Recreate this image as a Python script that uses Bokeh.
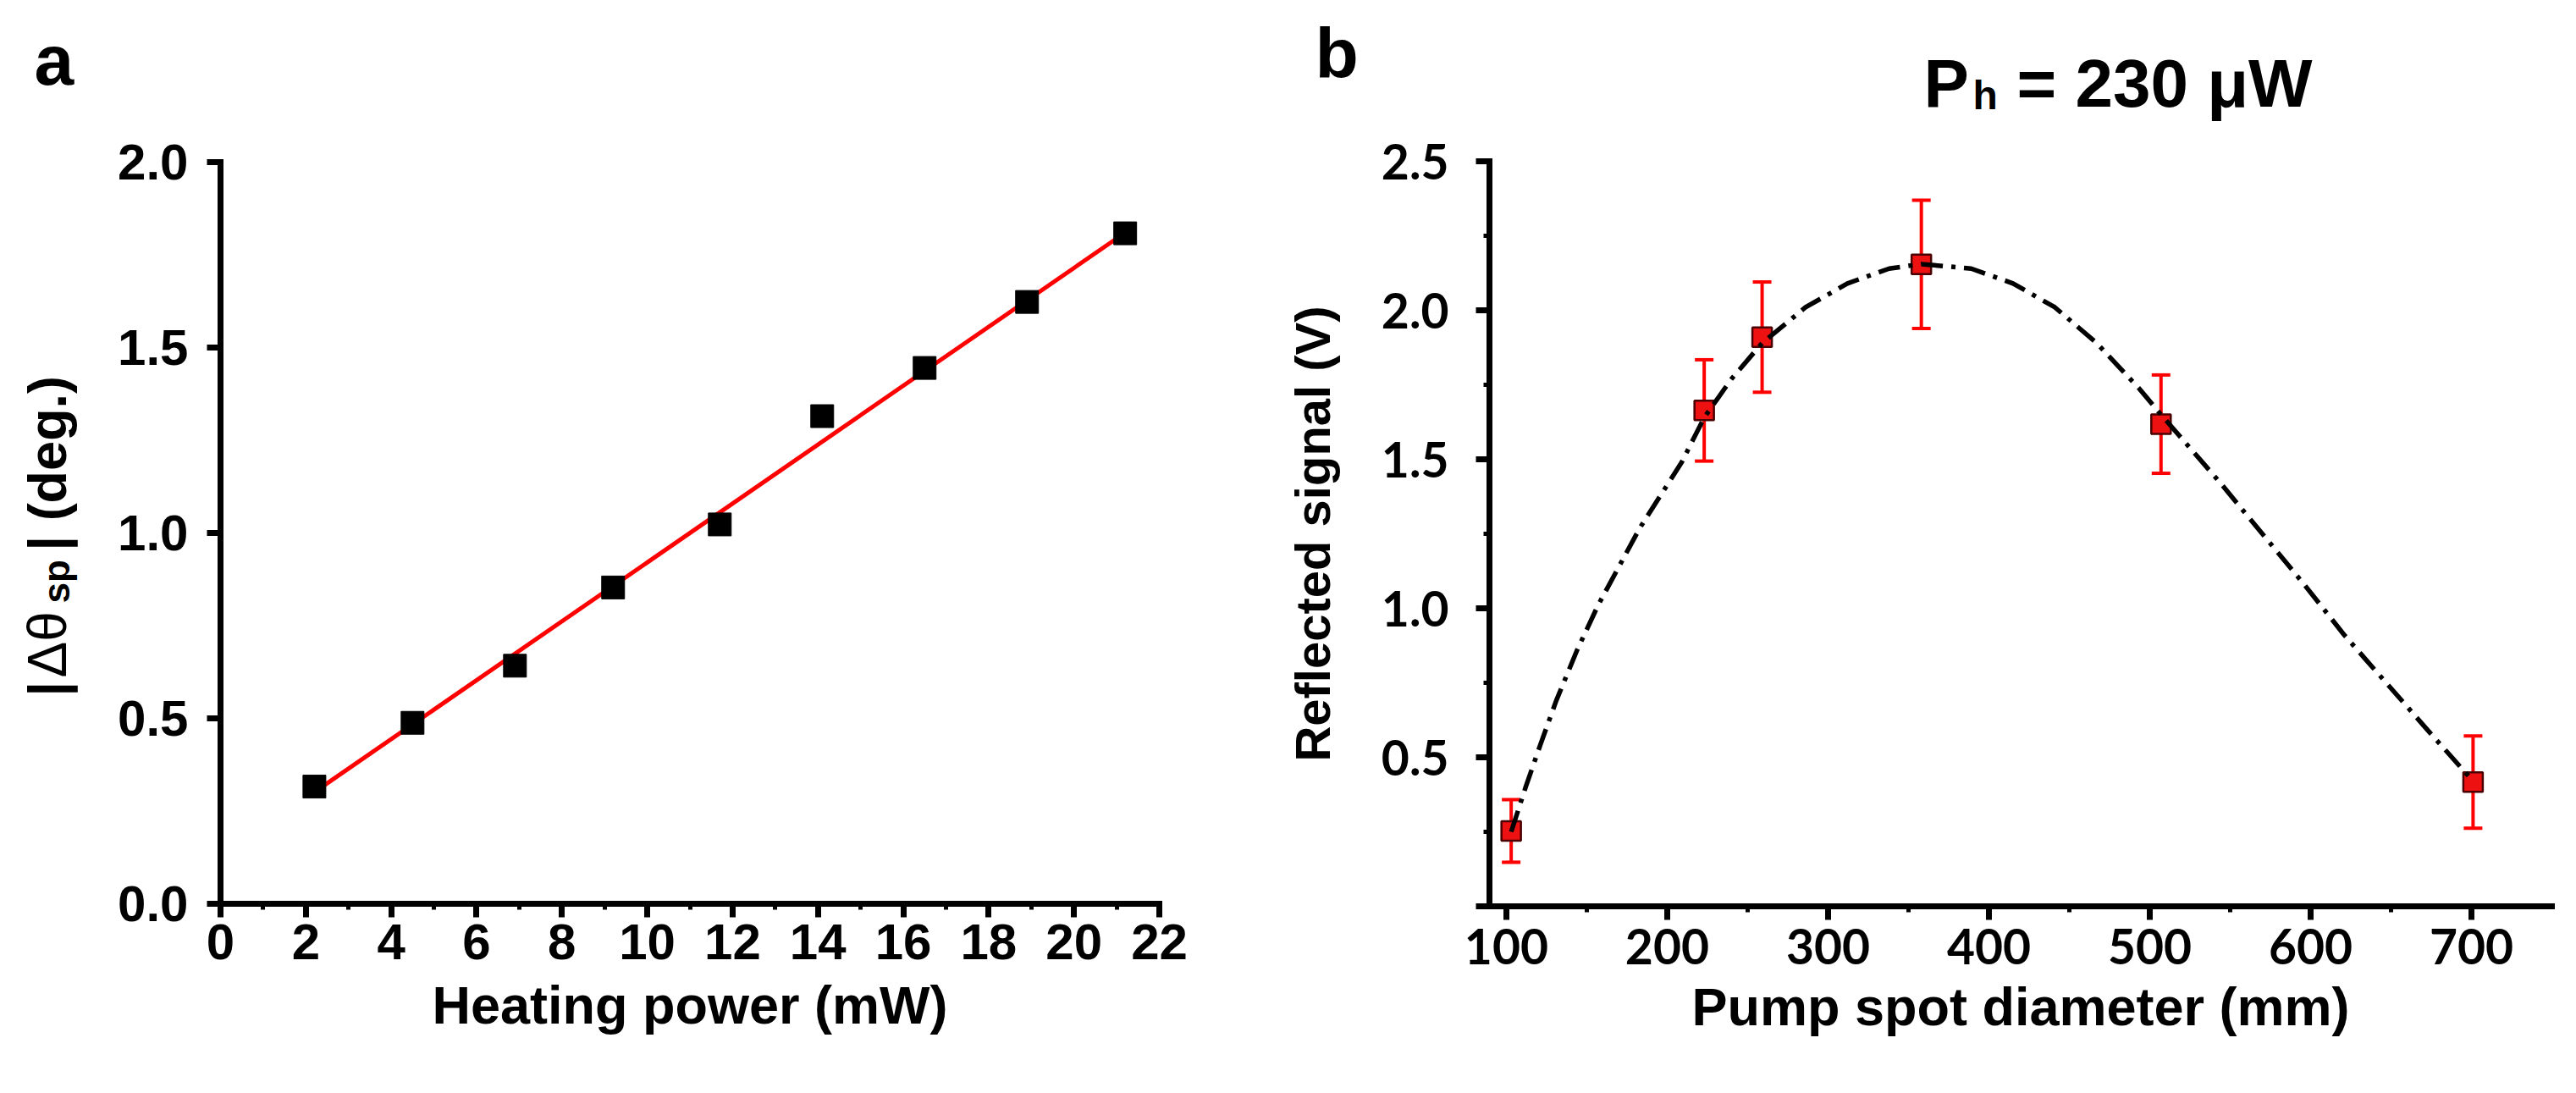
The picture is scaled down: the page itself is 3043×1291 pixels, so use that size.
from math import pi

from bokeh.core.properties import value
from bokeh.embed import file_html
from bokeh.layouts import column, row
from bokeh.models import (ColumnDataSource, FixedTicker, NumeralTickFormatter, Range1d,
                          TeeHead, Whisker)
from bokeh.plotting import figure
from bokeh.resources import INLINE

# panel a: |d theta_sp| against heating power
power_mw = [2.2, 4.5, 6.9, 9.2, 11.7, 14.1, 16.5, 18.9, 21.2]
dtheta_deg = [0.316, 0.488, 0.642, 0.853, 1.023, 1.315, 1.445, 1.623, 1.808]
fit_power = [2.25, 21.2]
fit_dtheta = [0.305, 1.81]
a_xticks = [0, 2, 4, 6, 8, 10, 12, 14, 16, 18, 20, 22]
a_xminor = [1, 3, 5, 7, 9, 11, 13, 15, 17, 19, 21]
a_yticks = [0.0, 0.5, 1.0, 1.5, 2.0]

# panel b: reflected signal against pump spot diameter
spot_mm = [103, 223, 259, 358, 507, 701]
signal_v = [0.253, 1.664, 1.910, 2.154, 1.618, 0.417]
signal_err = [0.105, 0.17, 0.185, 0.215, 0.165, 0.155]
curve_mm = [103, 112, 121, 131, 144, 157, 170, 183, 196, 209, 223, 240, 259, 286, 312,
            338, 358, 389, 415, 441, 467, 493, 507, 544, 570, 596, 621, 647, 673, 701]
curve_v = [0.25, 0.40, 0.54, 0.69, 0.86, 1.01, 1.14, 1.27, 1.38, 1.49, 1.64, 1.77, 1.89,
           2.01, 2.09, 2.14, 2.155, 2.14, 2.09, 2.01, 1.89, 1.74, 1.65, 1.42, 1.25, 1.08,
           0.91, 0.75, 0.59, 0.42]
b_xticks = [100, 200, 300, 400, 500, 600, 700]
b_xminor = [150, 250, 350, 450, 550, 650]
b_yticks = [0.0, 0.5, 1.0, 1.5, 2.0, 2.5]
b_yminor = [0.25, 0.75, 1.25, 1.75, 2.25]

ARIAL = "Liberation Sans"


def style_axes(p, tick_font, tick_size):
    p.grid.grid_line_color = None
    p.outline_line_color = None
    p.frame_align = False
    for ax in p.axis:
        ax.axis_line_width = 7
        ax.axis_line_cap = "square"
        ax.major_tick_line_width = 7
        ax.minor_tick_line_width = 5
        ax.major_tick_in = 0
        ax.major_tick_out = 16
        ax.minor_tick_in = 0
        ax.minor_tick_out = 7
        ax.major_label_text_font = tick_font
        ax.major_label_text_font_style = "bold"
        ax.major_label_text_font_size = tick_size
        ax.major_label_text_color = "black"
        ax.axis_label_text_font = ARIAL
        ax.axis_label_text_font_style = "bold"
        ax.axis_label_text_font_size = "63px"
        ax.axis_label_text_color = "black"


def strip(width, height):
    # blank figure whose frame is the whole canvas, y counted downwards in pixels
    s = figure(width=width, height=height, output_backend="svg", toolbar_location=None,
               x_range=Range1d(0, width), y_range=Range1d(height, 0),
               x_axis_location=None, y_axis_location=None, min_border=0)
    s.grid.grid_line_color = None
    s.outline_line_color = None
    s.frame_align = False
    return s


def put(s, x, y, txt, size, bold=True, angle=0.0):
    s.text(x=[x], y=[y], text=[txt], angle=angle, text_font=value(ARIAL),
           text_font_size=size, text_font_style="bold" if bold else "normal",
           text_color="black", text_align="left", text_baseline="alphabetic")


# ---- panel a
sa = strip(128, 1275)
put(sa, 40, 70, "a", "84px")
put(sa, 55, 822, "|", "63px", angle=pi / 2)
put(sa, 55, 800, "Δθ", "64px", bold=False, angle=pi / 2)
put(sa, 66, 712, "sp", "44px", angle=pi / 2)
put(sa, 55, 650, "| (deg.)", "63px", angle=pi / 2)

pa = figure(width=1372, height=1275, output_backend="svg", toolbar_location=None,
            x_range=Range1d(0, 22), y_range=Range1d(0, 2.0))
pa.min_border_left = 132
pa.min_border_right = 131
pa.min_border_top = 191
pa.min_border_bottom = 208
style_axes(pa, ARIAL, "60px")
pa.xaxis.ticker = FixedTicker(ticks=a_xticks, minor_ticks=a_xminor)
pa.yaxis.ticker = FixedTicker(ticks=a_yticks)
pa.yaxis.formatter = NumeralTickFormatter(format="0.0")
pa.xaxis.major_label_standoff = 8
pa.yaxis.major_label_standoff = 22
pa.xaxis.axis_label = "Heating power (mW)"
pa.xaxis.axis_label_standoff = 16

pa.line(fit_power, fit_dtheta, line_color="red", line_width=5)
pa.scatter(power_mw, dtheta_deg, marker="square", size=27, fill_color="black",
           line_color="black")

# ---- panel b
tb = strip(1527, 150)
put(tb, 53, 62, "b", "84px")
put(tb, 772, 98, "P", "80px")
put(tb, 830, 112, "h", "48px")
put(tb, 882, 98, "= 230 μW", "80px")

pb = figure(width=1527, height=1125, output_backend="svg", toolbar_location=None,
            x_range=Range1d(89.5, 750), y_range=Range1d(0, 2.5))
pb.min_border_left = 259
pb.min_border_right = 13
pb.min_border_top = 40
pb.min_border_bottom = 205
style_axes(pb, "Lato", "57px")
pb.xaxis.ticker = FixedTicker(ticks=b_xticks, minor_ticks=b_xminor)
pb.yaxis.ticker = FixedTicker(ticks=b_yticks, minor_ticks=b_yminor)
pb.yaxis.formatter = NumeralTickFormatter(format="0.0")
pb.yaxis.major_label_overrides = {0: ""}
pb.xaxis.major_label_standoff = 10
pb.yaxis.major_label_standoff = 32
pb.xaxis.axis_label = "Pump spot diameter (mm)"
pb.xaxis.axis_label_standoff = 12
pb.yaxis.axis_label = "Reflected signal (V)"
pb.yaxis.axis_label_text_font_size = "58px"
pb.yaxis.axis_label_standoff = 46

src = ColumnDataSource(data=dict(
    x=spot_mm, y=signal_v,
    upper=[v + e for v, e in zip(signal_v, signal_err)],
    lower=[v - e for v, e in zip(signal_v, signal_err)],
))
pb.add_layout(Whisker(source=src, base="x", upper="upper", lower="lower",
                      line_color="red", line_width=4,
                      upper_head=TeeHead(size=22, line_color="red", line_width=4),
                      lower_head=TeeHead(size=22, line_color="red", line_width=4)))
pb.scatter("x", "y", source=src, marker="square", size=23, fill_color="#ee1111",
           line_color="#4a0000", line_width=2.5)
pb.line(curve_mm, curve_v, line_color="black", line_width=5.5, line_dash="26 10 5 10")

page = row(sa, pa, column(tb, pb))
open("out.html", "w").write(file_html(page, INLINE))
